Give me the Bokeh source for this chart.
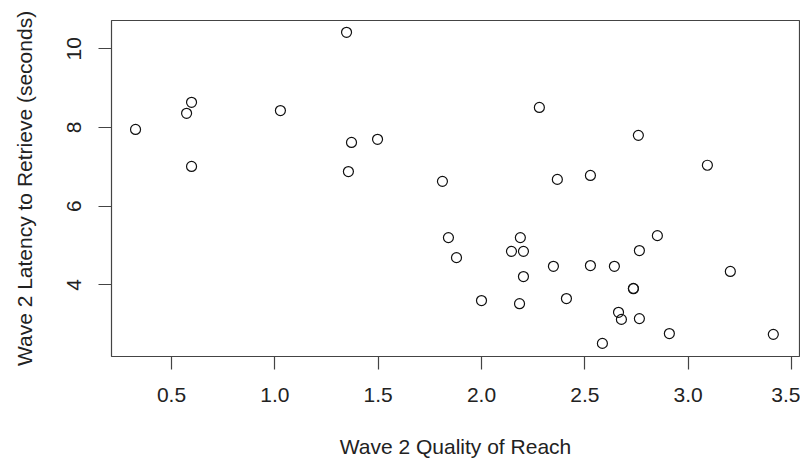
from bokeh.plotting import figure
from bokeh.models import FixedTicker, NumeralTickFormatter, Range1d
from bokeh.embed import file_html
from bokeh.resources import INLINE

# Wave 2 Quality of Reach (x) vs Wave 2 Latency to Retrieve (y)
quality = [0.326, 0.573, 0.597, 0.597, 1.027, 1.347, 1.371, 1.356, 1.497,
           1.811, 1.840, 1.879, 2.000, 2.145, 2.188, 2.203, 2.184, 2.203,
           2.280, 2.348, 2.367, 2.411, 2.527, 2.527, 2.585, 2.643, 2.663,
           2.677, 2.735, 2.735, 2.759, 2.764, 2.764, 2.851, 2.909, 3.093,
           3.204, 3.412]
latency = [7.95, 8.36, 8.64, 7.01, 8.43, 10.42, 7.62, 6.88, 7.70,
           6.63, 5.20, 4.69, 3.60, 4.85, 5.20, 4.85, 3.52, 4.21,
           8.51, 4.47, 6.68, 3.65, 4.49, 6.78, 2.51, 4.47, 3.30,
           3.12, 3.91, 3.90, 7.80, 4.87, 3.14, 5.25, 2.76, 7.04,
           4.34, 2.74]

x_ticks = [0.5, 1.0, 1.5, 2.0, 2.5, 3.0, 3.5]
y_ticks = [4, 6, 8, 10]

FONT = "Liberation Sans"
FS = "21px"
AX = "#444444"
TXT = "#222222"

p = figure(width=800, height=461, output_backend="svg", toolbar_location=None,
           x_range=Range1d(0.2097, 3.5387), y_range=Range1d(2.177, 10.72),
           min_border_left=111, min_border_right=1, min_border_top=20,
           min_border_bottom=105)

p.scatter(quality, latency, marker="circle", size=10, fill_color=None,
          line_color="#111111", line_width=1.2)

p.xgrid.visible = False
p.ygrid.visible = False
p.outline_line_color = AX
p.outline_line_width = 1.2
p.background_fill_color = "white"
p.border_fill_color = "white"

p.xaxis.ticker = FixedTicker(ticks=x_ticks)
p.xaxis.formatter = NumeralTickFormatter(format="0.0")
p.yaxis.ticker = FixedTicker(ticks=y_ticks)

for ax in (p.xaxis[0], p.yaxis[0]):
    ax.axis_line_color = None
    ax.major_tick_line_color = AX
    ax.major_tick_line_width = 1.2
    ax.major_tick_out = 13
    ax.major_tick_in = 0
    ax.minor_tick_line_color = None
    ax.major_label_text_font = FONT
    ax.major_label_text_font_size = FS
    ax.major_label_text_color = TXT
    ax.axis_label_text_font = FONT
    ax.axis_label_text_font_size = FS
    ax.axis_label_text_color = TXT
    ax.axis_label_text_font_style = "normal"

p.xaxis.axis_label = "Wave 2 Quality of Reach"
p.yaxis.axis_label = "Wave 2 Latency to Retrieve (seconds)"
p.yaxis.major_label_orientation = "vertical"
p.xaxis.major_label_standoff = 18
p.xaxis.axis_label_standoff = 30
p.yaxis.major_label_standoff = 17
p.yaxis.axis_label_standoff = 29

open("out.html", "w").write(file_html(p, INLINE))
